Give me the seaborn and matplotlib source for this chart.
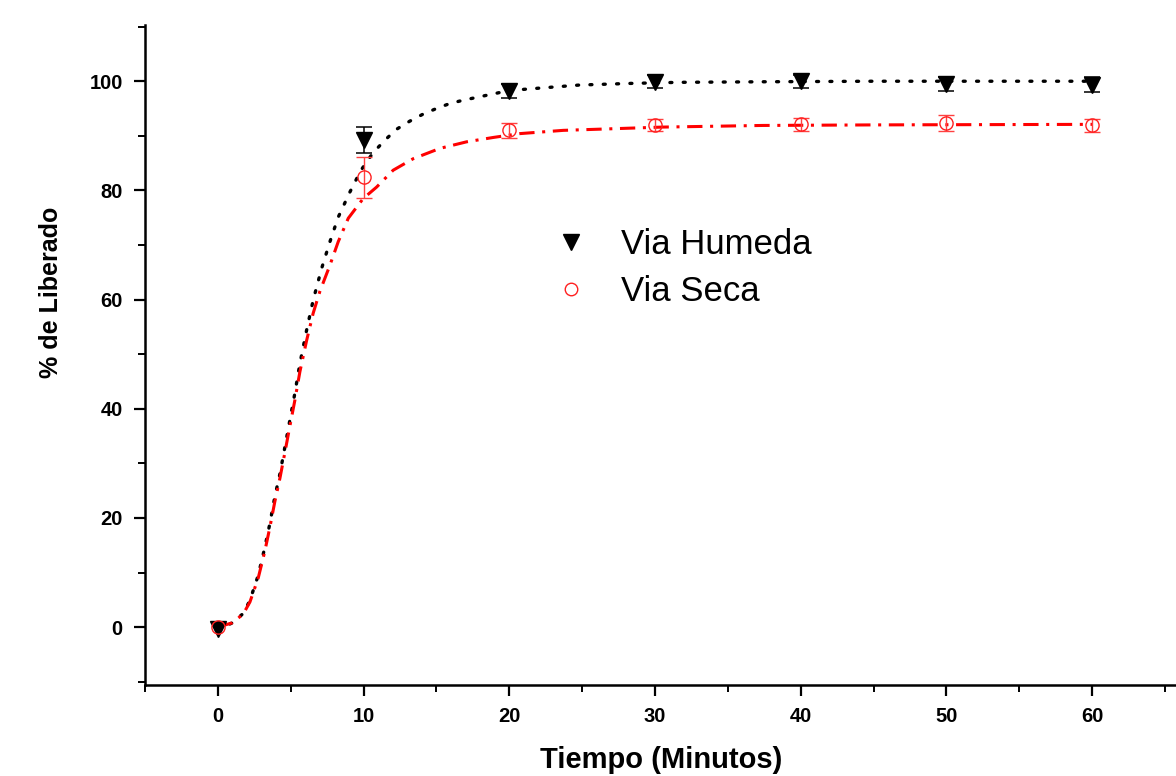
import numpy as np
import pandas as pd
import matplotlib
matplotlib.use("Agg")
import matplotlib.pyplot as plt
from matplotlib.lines import Line2D
from matplotlib.ticker import MultipleLocator
import seaborn as sns

# ---- data ----
time_points = [0, 10, 20, 30, 40, 50, 60]
humeda_mean = [-0.3, 89.3, 98.2, 99.9, 100.0, 99.5, 99.4]
humeda_err = [0.0, 2.4, 1.3, 1.2, 1.2, 1.3, 1.3]
seca_mean = [0.0, 82.4, 91.0, 92.0, 92.1, 92.3, 91.9]
seca_err = [0.0, 3.7, 1.4, 1.1, 1.2, 1.5, 1.2]

# fitted curves
humeda_fit_t = [0, 1, 1.74, 2.2, 2.77, 3.23, 3.57, 3.91, 4.26, 4.6, 4.94, 5.28, 5.63,
                6.09, 6.54, 7.12, 7.69, 8.26, 9.06, 9.8, 10.62, 11.46, 12.26, 13.18,
                14.1, 15, 15.9, 16.8, 18.4, 20, 21.4, 24.8, 28.3, 31.7, 37.4, 45, 60]
humeda_fit_v = [-0.5, 0.8, 2.5, 4.9, 9.5, 14.7, 19, 23.9, 28.1, 33, 37.9, 42.8, 48.3,
                54.4, 59.9, 65.7, 70.6, 75.1, 79.7, 83.6, 86.8, 89.2, 91.2, 92.7,
                94, 95, 95.9, 96.5, 97.4, 98.3, 98.6, 99.3, 99.6, 99.8, 99.9, 100, 100]
seca_fit_t = [0, 1, 1.74, 2.2, 2.77, 3.23, 3.57, 3.91, 4.26, 4.6, 4.94, 5.28, 5.63,
              6.09, 6.54, 7.0, 7.69, 8.26, 8.95, 9.97, 10.89, 12.03, 13.4, 15.24,
              17.07, 18.9, 20.7, 23.7, 26, 30.5, 37.4, 45, 60]
seca_fit_v = [0, 0.8, 2.4, 4.6, 9.0, 14.0, 18.3, 23.0, 27.3, 32.0, 36.8, 41.5, 46.8,
              52.5, 57.5, 61.5, 66.3, 70.6, 74.9, 78.5, 80.6, 83.7, 85.8, 87.7,
              88.9, 89.7, 90.4, 91.0, 91.2, 91.6, 91.9, 92.0, 92.1]

series_names = ["Via Humeda", "Via Seca"]
x_ticks = [0, 10, 20, 30, 40, 50, 60]
y_ticks = [0, 20, 40, 60, 80, 100]

# ---- style ----
sns.set_theme(style="ticks")
plt.rcParams["font.family"] = ["Liberation Sans", "DejaVu Sans"]
plt.rcParams["text.color"] = "black"
plt.rcParams["axes.labelcolor"] = "black"
plt.rcParams["xtick.color"] = "black"
plt.rcParams["ytick.color"] = "black"

fig = plt.figure(figsize=(11.76, 7.76), dpi=100)
ax = fig.add_axes([145 / 1176, 1 - 685 / 776, 1 - 145 / 1176, (685 - 25) / 776])

df_h = pd.DataFrame({"t": humeda_fit_t, "v": humeda_fit_v})
df_s = pd.DataFrame({"t": seca_fit_t, "v": seca_fit_v})

sns.lineplot(data=df_h, x="t", y="v", ax=ax, color="black", lw=2.4,
             linestyle=(0, (0.6, 3.4)), dash_capstyle="round", sort=False)
sns.lineplot(data=df_s, x="t", y="v", ax=ax, color="#ff0000", lw=2.2,
             linestyle=(0, (5, 2.5, 1, 2.5)), sort=False)

ax.errorbar(time_points[1:], humeda_mean[1:], yerr=humeda_err[1:], fmt="none",
            ecolor="black", elinewidth=1.1, capsize=6, capthick=1.1, zorder=3)
ax.errorbar(time_points[1:], seca_mean[1:], yerr=seca_err[1:], fmt="none",
            ecolor="#ff4040", elinewidth=1.0, capsize=6, capthick=1.0, zorder=3)

ax.plot(time_points, humeda_mean, linestyle="none", marker="v", markersize=12,
        color="black", zorder=4)
ax.plot(time_points, seca_mean, linestyle="none", marker="o", markersize=9.5,
        markerfacecolor="none", markeredgecolor="#ff2020", markeredgewidth=1.0, zorder=4)

ax.set_xlim(-5, 65.75)
ax.set_ylim(-10.6, 110.3)
ax.set_xticks(x_ticks)
ax.set_yticks(y_ticks)
ax.xaxis.set_minor_locator(MultipleLocator(5))
ax.yaxis.set_minor_locator(MultipleLocator(10))

for s in ["top", "right"]:
    ax.spines[s].set_visible(False)
for s in ["left", "bottom"]:
    ax.spines[s].set_linewidth(1.8)
    ax.spines[s].set_color("black")

ax.tick_params(which="major", direction="out", length=8, width=1.6, color="black",
               labelsize=14.5, pad=8, labelcolor="black")
ax.tick_params(which="minor", direction="out", length=5, width=1.4, color="black")
for lab in ax.get_xticklabels() + ax.get_yticklabels():
    lab.set_fontweight("bold")

ax.set_xlabel("Tiempo (Minutos)", fontsize=21, fontweight="bold", color="black")
ax.set_ylabel("% de Liberado", fontsize=18, fontweight="bold", color="black")
ax.xaxis.set_label_coords((661 - 145) / (1176 - 145), -(760 - 685) / 660)
ax.xaxis.label.set_va("center")
ax.yaxis.set_label_coords(-(145 - 51) / (1176 - 145), (685 - 292) / 660)
ax.yaxis.label.set_va("center")

handles = [
    Line2D([], [], linestyle="none", marker="v", markersize=11, color="black"),
    Line2D([], [], linestyle="none", marker="o", markersize=9,
           markerfacecolor="none", markeredgecolor="#ff2020", markeredgewidth=1.0),
]
fig.legend(handles, series_names, loc="upper left",
           bbox_to_anchor=(550 / 1176, 1 - 228 / 776), frameon=False,
           fontsize=25, handlelength=1.2, handletextpad=0.85, labelspacing=0.4,
           borderaxespad=0, borderpad=0)

fig.savefig("out.png", dpi=100, facecolor="white")
